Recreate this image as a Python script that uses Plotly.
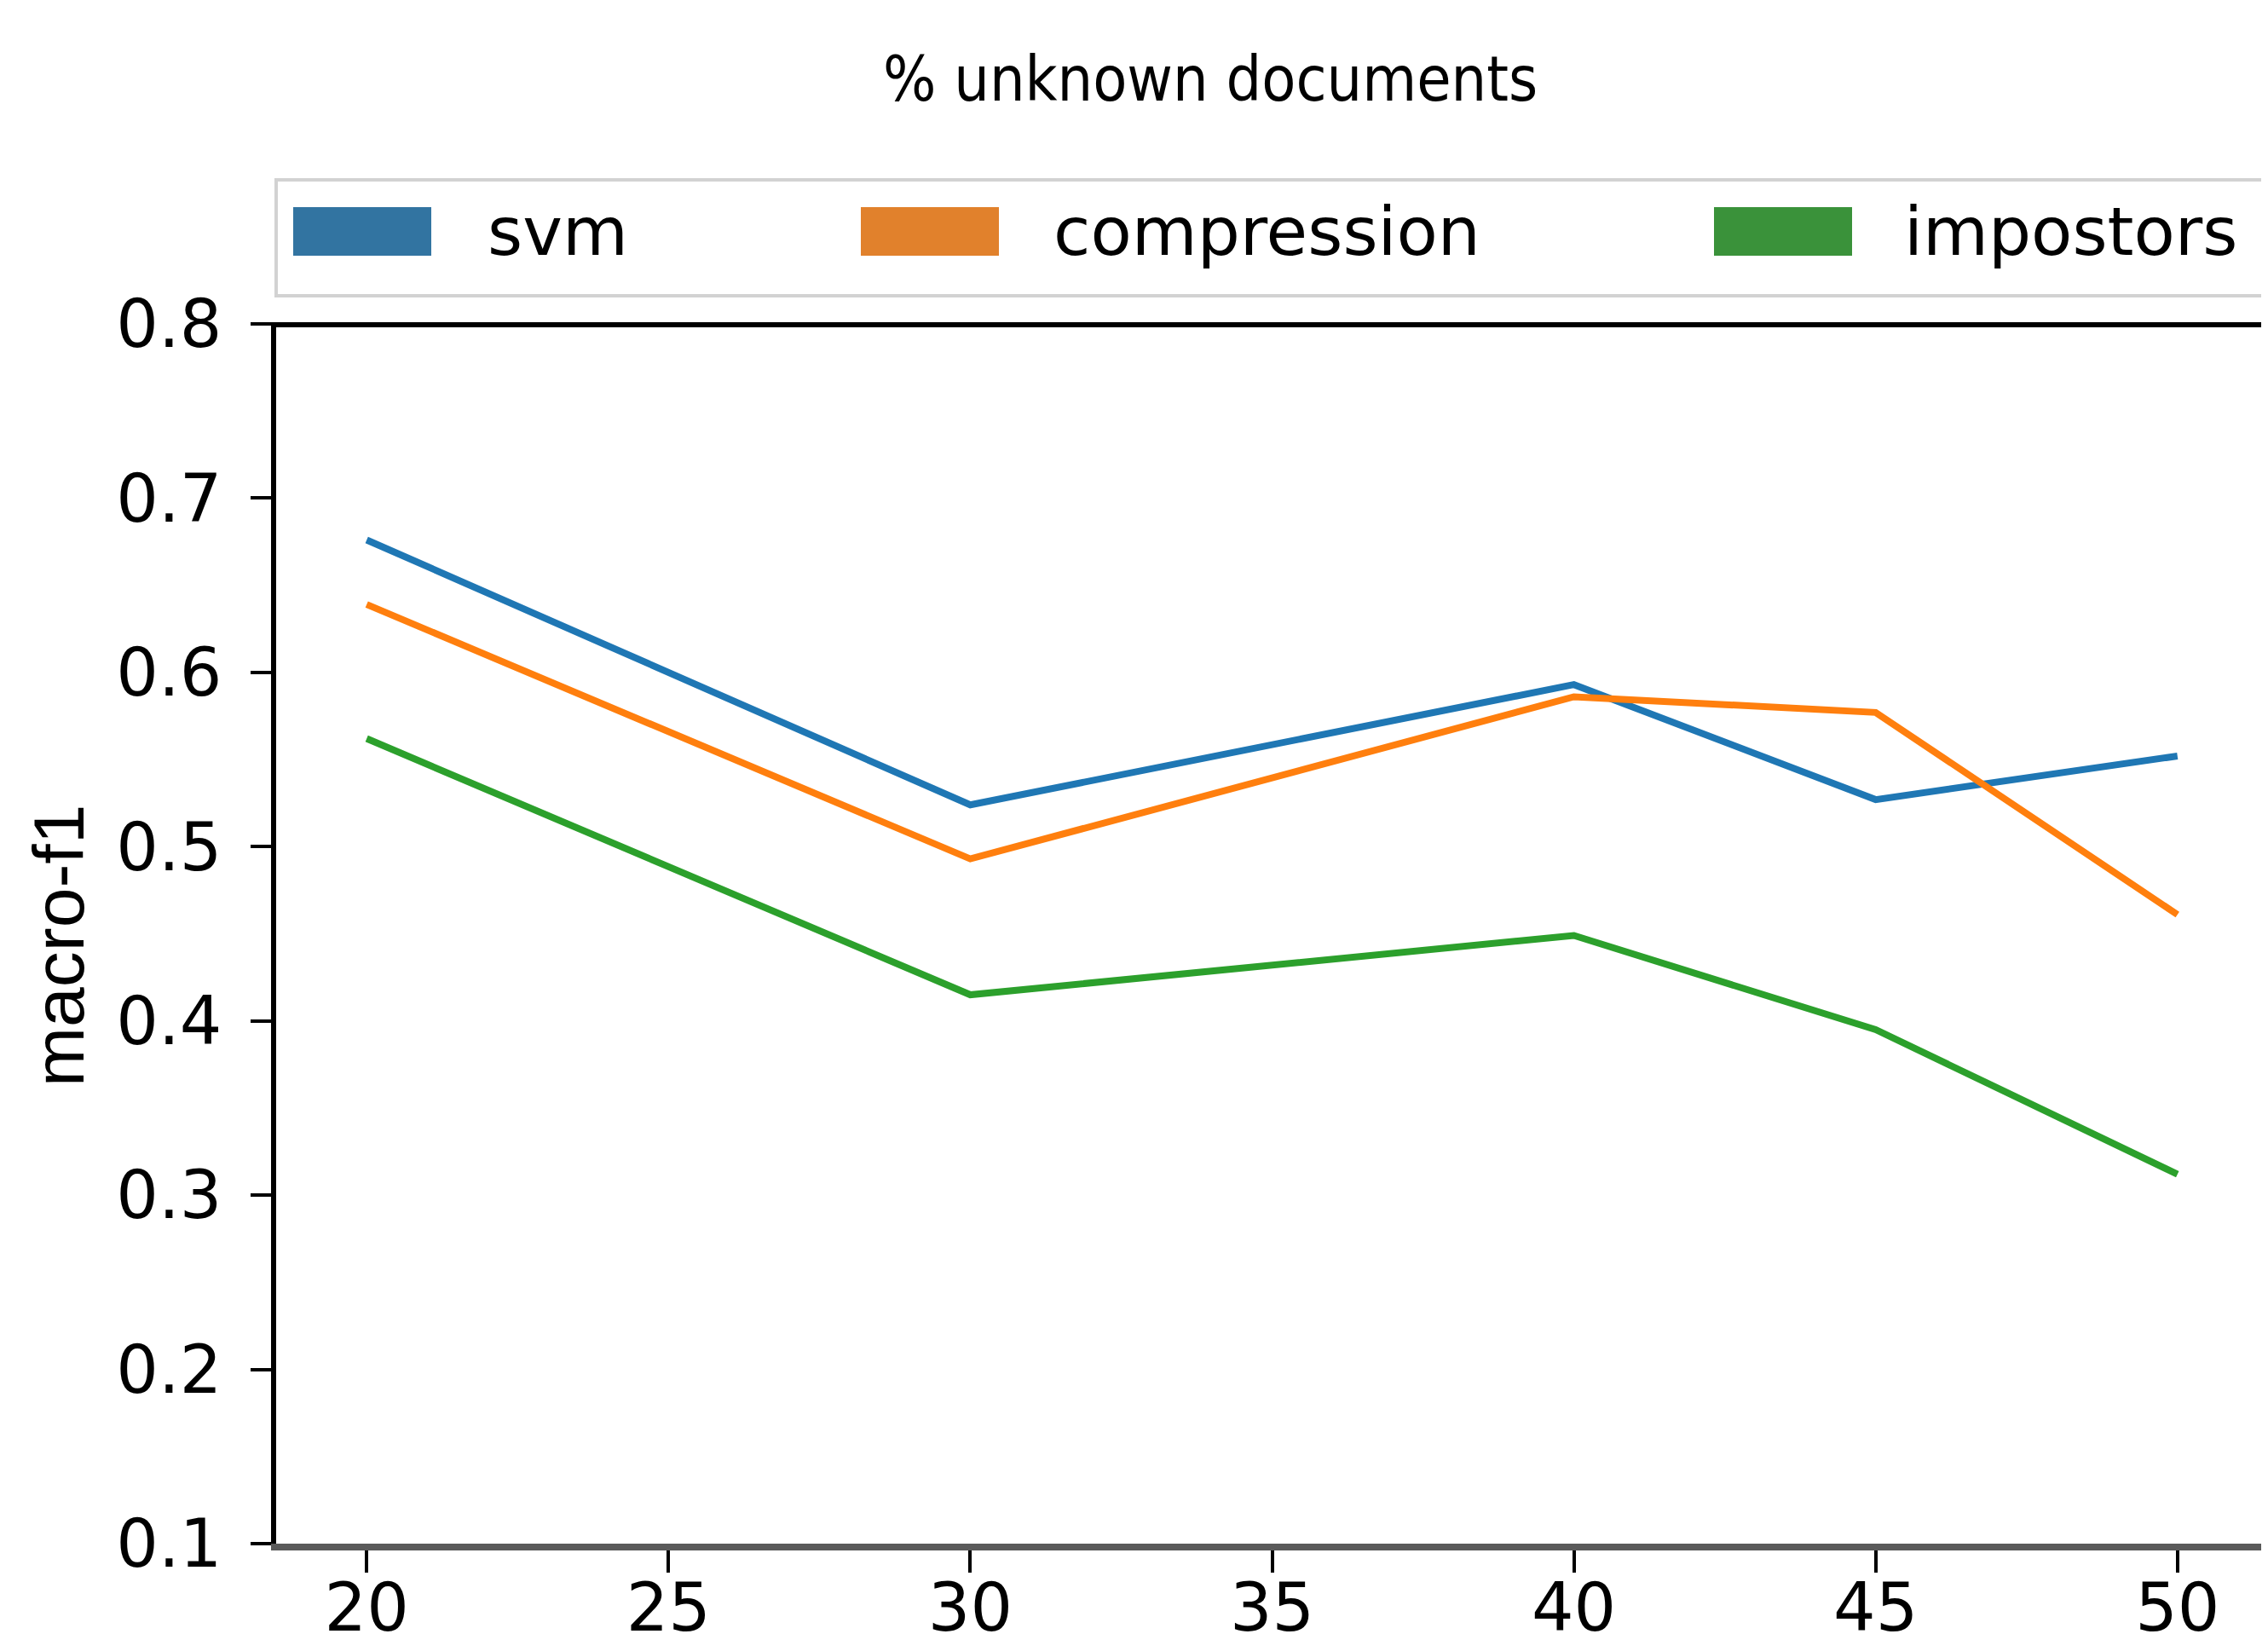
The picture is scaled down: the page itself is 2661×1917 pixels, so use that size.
import plotly.graph_objects as go

# ---- data ----
x_pct = [20, 30, 40, 45, 50]
svm = [0.676, 0.524, 0.593, 0.527, 0.552]
compression = [0.639, 0.493, 0.586, 0.577, 0.461]
impostors = [0.562, 0.415, 0.449, 0.395, 0.312]
series_names = ["svm", "compression", "impostors"]
x_ticks = [20, 25, 30, 35, 40, 45, 50]
y_ticks = [0.1, 0.2, 0.3, 0.4, 0.5, 0.6, 0.7, 0.8]

line_colors = ["#1f77b4", "#ff7f0e", "#2ca02c"]
patch_colors = ["#3274a1", "#e1812c", "#3a923a"]

OFF = 8  # page body margin
W, H = 2661 - OFF, 1917 - OFF
L, R, T, B = 324, 2661, 380, 1811  # page pixel positions of plot area


def px_x(p):
    return (p - L) / (R - L)


def px_y(p):
    return (B - p) / (B - T)


fig = go.Figure()
for name, vals, col in zip(series_names, [svm, compression, impostors], line_colors):
    fig.add_trace(go.Scatter(x=x_pct, y=vals, mode="lines", name=name,
                             line=dict(color=col, width=8), showlegend=False))

tick_font = dict(family="DejaVu Sans", size=78, color="black")

fig.update_layout(
    width=W, height=H,
    margin=dict(l=L - OFF, r=0, t=T - OFF, b=(1917 - B), autoexpand=False),
    paper_bgcolor="white", plot_bgcolor="white",
    xaxis=dict(range=[18.5, 51.5], tickvals=x_ticks, ticktext=[str(v) for v in x_ticks],
               showgrid=False, zeroline=False, showline=True, linecolor="#5a5a5a",
               linewidth=8, ticks="outside", ticklen=26, tickwidth=4, tickcolor="black",
               tickfont=tick_font, ticklabelstandoff=-26, automargin=False),
    yaxis=dict(range=[0.1, 0.8], tickvals=y_ticks, ticktext=["%.1f" % v for v in y_ticks],
               showgrid=False, zeroline=False, showline=True, linecolor="black",
               linewidth=6, ticks="outside", ticklen=24, tickwidth=4, tickcolor="black",
               tickfont=tick_font, ticklabelstandoff=18, automargin=False),
)

shapes = []
# top spine
shapes.append(dict(type="line", xref="paper", yref="paper", x0=px_x(318), x1=1.0,
                   y0=px_y(381), y1=px_y(381), line=dict(color="black", width=6)))
# legend frame
shapes.append(dict(type="rect", xref="paper", yref="paper", x0=px_x(324), x1=px_x(2657),
                   y0=px_y(347), y1=px_y(211), line=dict(color="#d2d2d2", width=4),
                   fillcolor="white", layer="below"))
annotations = []
patch_left = [344, 1010, 2011]
text_left = [570, 1234, 2232]
for name, pc, pl, tl in zip(series_names, patch_colors, patch_left, text_left):
    shapes.append(dict(type="rect", xref="paper", yref="paper", x0=px_x(pl), x1=px_x(pl + 162),
                       y0=px_y(300), y1=px_y(243), line=dict(width=0), fillcolor=pc))
    annotations.append(dict(text=name, xref="paper", yref="paper", x=px_x(tl), y=px_y(272),
                            xanchor="left", yanchor="middle", showarrow=False,
                            font=dict(family="DejaVu Sans", size=79, color="black")))

# title
annotations.append(dict(text="% unknown documents", xref="paper", yref="paper",
                        x=px_x(1420), y=px_y(92), xanchor="center", yanchor="middle",
                        showarrow=False,
                        font=dict(family="Liberation Sans Narrow, DejaVu Sans Condensed, Liberation Sans",
                                  size=73, color="black")))
# y label
annotations.append(dict(text="macro-f1", xref="paper", yref="paper", x=px_x(69), y=px_y(1110),
                        xanchor="center", yanchor="middle", textangle=-90, showarrow=False,
                        font=dict(family="Liberation Sans", size=84, color="black")))

fig.update_layout(shapes=shapes, annotations=annotations)
fig.write_html("out.html")
